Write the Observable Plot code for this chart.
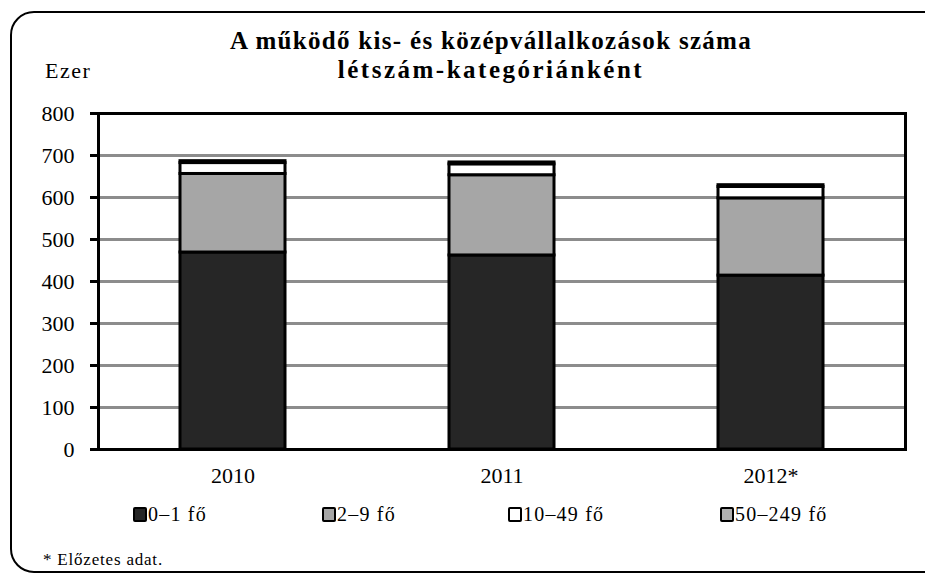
<!DOCTYPE html>
<html>
<head>
<meta charset="utf-8">
<script src="https://cdn.jsdelivr.net/npm/d3@7"></script>
<script src="https://cdn.jsdelivr.net/npm/@observablehq/plot@0.6"></script>
<style>
  html, body { margin: 0; padding: 0; background: #fff; }
  body { width: 925px; height: 577px; position: relative; overflow: hidden; font-family: "Liberation Serif", "DejaVu Serif", serif; color: #000; }
  #frame { position: absolute; left: 10px; top: 11px; width: 940px; height: 562px; border: 2.5px solid #000; border-radius: 24px; box-sizing: border-box; }
  #chart { position: absolute; left: 0; top: 0; }
  .title { position: absolute; left: 491px; transform: translateX(-50%); font-weight: bold; font-size: 25px; white-space: nowrap; }
  .unit { position: absolute; left: 45px; top: 58px; font-size: 22px; letter-spacing: 1.5px; }
  .leg { position: absolute; top: 503px; font-size: 20px; letter-spacing: 1.2px; white-space: nowrap; display: flex; align-items: center; }
  .sw { display: inline-block; width: 10px; height: 11px; border: 2.5px solid #000; border-radius: 2px; margin-right: 1px; }
  .note { position: absolute; left: 43px; top: 550px; font-size: 17px; letter-spacing: 0.8px; }
</style>
</head>
<body>
<div id="frame"></div>
<div id="chart"></div>
<div class="title" style="top:27px; letter-spacing:1.3px">A működő kis- és középvállalkozások száma</div>
<div class="title" style="top:56px; letter-spacing:2.5px">létszám-kategóriánként</div>
<div class="unit">Ezer</div>
<div id="legend"></div>
<div class="note">* Előzetes adat.</div>
<script>
const years = ["2010", "2011", "2012*"];
const categories = ["0–1 fő", "2–9 fő", "10–49 fő", "50–249 fő"];
const v0_1 = [469, 462, 414];
const v2_9 = [187, 191, 184];
const v10_49 = [26, 26, 27];
const v50_249 = [4.5, 4.4, 4.3];
const yTicks = [0, 100, 200, 300, 400, 500, 600, 700, 800];
const gridTicks = [100, 200, 300, 400, 500, 600, 700];
const colors = ["#262626", "#a6a6a6", "#ffffff", "#b0b0b0"];

const series = [v0_1, v2_9, v10_49, v50_249];
const data = [];
years.forEach((y, i) => {
  categories.forEach((c, j) => data.push({year: y, cat: c, value: series[j][i]}));
});

const chart = Plot.plot({
  width: 925,
  height: 577,
  marginLeft: 98,
  marginRight: 20,
  marginTop: 113,
  marginBottom: 128,
  style: {fontFamily: "'Liberation Serif', serif", fontSize: "22px", color: "#000", background: "transparent"},
  x: {domain: years, paddingInner: 0.61, paddingOuter: 0.305, label: null},
  y: {domain: [0, 800], label: null},
  color: {domain: categories, range: colors},
  marks: [
    Plot.ruleY(gridTicks, {stroke: "#8c8c8c", strokeWidth: 3}),
    Plot.barY(data, Plot.stackY({x: "year", y: "value", fill: "cat", order: null, stroke: "#000", strokeWidth: 3})),
    Plot.frame({stroke: "#000", strokeWidth: 3}),
    Plot.axisY({ticks: yTicks, tickSize: 8, tickPadding: 16, strokeWidth: 3, fontSize: 22, label: null}),
    Plot.axisX({tickSize: 0, tickPadding: 18, fontSize: 22, label: null})
  ]
});
document.getElementById("chart").appendChild(chart);

const legendX = [133, 322, 508, 720];
const legend = document.getElementById("legend");
categories.forEach((c, i) => {
  const d = document.createElement("div");
  d.className = "leg";
  d.style.left = legendX[i] + "px";
  const s = document.createElement("span");
  s.className = "sw";
  s.style.background = colors[i];
  d.appendChild(s);
  d.appendChild(document.createTextNode(c));
  legend.appendChild(d);
});
</script>
</body>
</html>
